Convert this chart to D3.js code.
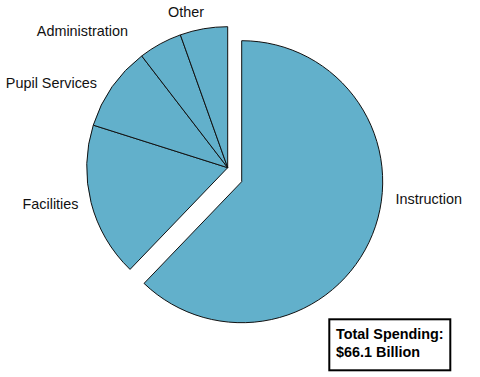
<!DOCTYPE html>
<html>
<head>
<meta charset="utf-8">
<script src="https://cdn.jsdelivr.net/npm/d3@7"></script>
<style>
  body { margin: 0; background: #fff; }
  svg { display: block; font-family: "Liberation Sans", Arial, Helvetica, sans-serif; }
</style>
</head>
<body>
<div id="chart"></div>
<script>
// spending by category, billions of dollars
let categories = ['Instruction', 'Facilities', 'Pupil Services', 'Administration', 'Other'];
let values = [41.1, 11.7, 6.4, 3.3, 3.6];
let totalLabel = ['Total Spending:', '$66.1 Billion'];

const width = 480, height = 377;
const cx = 227.7, cy = 167.7, radius = 141;
const fill = '#62b0cb';

// exploded slice moves down-right
const explode = { dist: 19.8, angle: Math.PI * 3 / 4 };

// hand tuned label nudges, from the mid-angle position
const nudge = {
    'Instruction': [11, -40],
    'Facilities': [0, -2],
    'Pupil Services': [-4.5, 3],
    'Administration': [-26, -2],
    'Other': [2.5, -4.3]
};

const data = categories.map((c, i) => ({ name: c, value: values[i] }));

const svg = d3.select('#chart').append('svg')
    .attr('width', width)
    .attr('height', height);

const plot = svg.append('g')
    .attr('transform', `translate(${cx},${cy})`);

const pie = d3.pie()
    .sort(null)
    .value(d => d.value);

const arc = d3.arc()
    .innerRadius(0)
    .outerRadius(radius);

const labelArc = d3.arc()
    .innerRadius(154)
    .outerRadius(154);

const arcs = pie(data);

function offset(d) {
    if (d.index !== 0) return [0, 0];
    return [explode.dist * Math.sin(explode.angle), -explode.dist * Math.cos(explode.angle)];
}

plot.selectAll('path.slice')
    .data(arcs)
    .join('path')
    .attr('class', 'slice')
    .attr('transform', d => `translate(${offset(d)})`)
    .attr('d', arc)
    .attr('fill', fill)
    .attr('stroke', '#111')
    .attr('stroke-width', 1)
    .attr('stroke-linejoin', 'round');

plot.selectAll('text.label')
    .data(arcs)
    .join('text')
    .attr('class', 'label')
    .attr('x', d => labelArc.centroid(d)[0] + offset(d)[0] + nudge[d.data.name][0])
    .attr('y', d => labelArc.centroid(d)[1] + offset(d)[1] + nudge[d.data.name][1])
    .attr('dy', '0.36em')
    .attr('text-anchor', d => (d.startAngle + d.endAngle) / 2 < Math.PI ? 'start' : 'end')
    .attr('font-size', 14.4)
    .attr('fill', '#111')
    .text(d => d.data.name);

// total box
const box = svg.append('g');
box.append('rect')
    .attr('x', 329.3)
    .attr('y', 319.3)
    .attr('width', 121)
    .attr('height', 51)
    .attr('fill', '#fff')
    .attr('stroke', '#000')
    .attr('stroke-width', 2);

box.selectAll('text')
    .data(totalLabel)
    .join('text')
    .attr('x', 336)
    .attr('y', (d, i) => 339 + i * 18)
    .attr('font-size', 14.4)
    .attr('font-weight', 'bold')
    .attr('fill', '#000')
    .text(d => d);
</script>
</body>
</html>
